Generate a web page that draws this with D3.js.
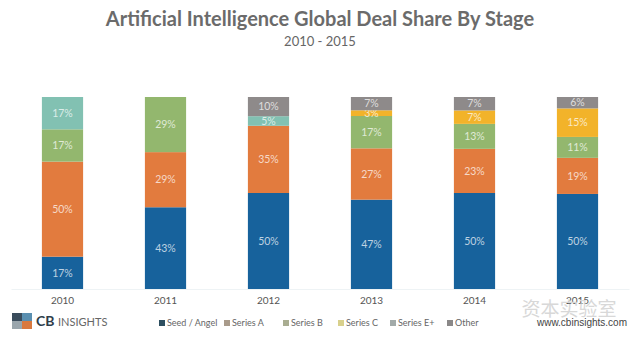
<!DOCTYPE html>
<html>
<head>
<meta charset="utf-8">
<script src="https://cdn.jsdelivr.net/npm/d3@7"></script>
<style>
  body { margin: 0; background: #fff; }
  svg { display: block; font-family: Lato, "Open Sans", sans-serif; }
</style>
</head>
<body>
<script>
const w = 640;
const h = 339;

const years = ["2010", "2011", "2012", "2013", "2014", "2015"];
const stages = ["Seed / Angel", "Series A", "Series B", "Series C", "Series E+", "Other"];
const seedAngel = [17, 43, 50, 47, 50, 50];
const seriesA = [50, 29, 35, 27, 23, 19];
const seriesB = [17, 29, 0, 17, 13, 11];
const seriesC = [0, 0, 0, 3, 7, 15];
const seriesE = [17, 0, 5, 0, 0, 0];
const other = [0, 0, 10, 7, 7, 6];

const barColors = ["#17629c", "#e27b3e", "#93b76e", "#f2b32a", "#82c1b2", "#8e8a8a"];
const legendColors = ["#2d4f60", "#a99b8b", "#a9ad91", "#d8d08c", "#a2aaa9", "#8a8888"];

const series = [seedAngel, seriesA, seriesB, seriesC, seriesE, other];
const rows = years.map((y, i) => {
  const r = { year: y };
  stages.forEach((s, j) => (r[s] = series[j][i]));
  return r;
});

const svg = d3.select("body").append("svg").attr("width", w).attr("height", h);

svg.append("text")
  .attr("x", 320).attr("y", 26)
  .attr("text-anchor", "middle")
  .attr("font-size", 20).attr("font-weight", "bold")
  .attr("fill", "#6b6b6b")
  .text("Artificial Intelligence Global Deal Share By Stage");

svg.append("text")
  .attr("x", 320).attr("y", 46)
  .attr("text-anchor", "middle")
  .attr("font-size", 13)
  .attr("fill", "#666")
  .text("2010 - 2015");

const xScale = d3.scaleBand()
  .domain(years)
  .range([11, 629])
  .paddingInner(0.6)
  .paddingOuter(0.3);

const yScale = d3.scaleLinear().domain([0, 1]).range([289, 97]);

const stack = d3.stack().keys(stages).offset(d3.stackOffsetExpand);
const layers = stack(rows);

const groups = svg.selectAll("g.layer")
  .data(layers)
  .enter()
  .append("g")
  .attr("class", "layer")
  .attr("fill", (d, i) => barColors[i]);

groups.selectAll("rect")
  .data((d) => d.filter((p) => p[1] - p[0] > 0))
  .enter()
  .append("rect")
  .attr("x", (d) => xScale(d.data.year))
  .attr("y", (d) => yScale(d[1]))
  .attr("width", xScale.bandwidth())
  .attr("height", (d) => yScale(d[0]) - yScale(d[1]));

groups.selectAll("text")
  .data((d) => d.filter((p) => p[1] - p[0] > 0).map((p) => ({ p: p, key: d.key })))
  .enter()
  .append("text")
  .attr("x", (d) => xScale(d.p.data.year) + xScale.bandwidth() / 2)
  .attr("y", (d) => yScale((d.p[0] + d.p[1]) / 2))
  .attr("dy", "0.35em")
  .attr("text-anchor", "middle")
  .attr("font-size", 10.5)
  .attr("fill", "#fff")
  .attr("fill-opacity", 0.72)
  .text((d) => d.p.data[d.key] + "%");

const xAxis = d3.axisBottom(xScale).tickSize(0).tickPadding(8);
const gx = svg.append("g")
  .attr("transform", "translate(0," + 289 + ")")
  .call(xAxis);
gx.select(".domain").attr("stroke", "#eef3f5");
gx.selectAll("text")
  .attr("font-family", "Lato, sans-serif")
  .attr("font-size", 10)
  .attr("fill", "#555");

// legend
const legendX = [159, 224, 283, 338, 390, 447];
const legend = svg.selectAll("g.legend")
  .data(stages)
  .enter()
  .append("g")
  .attr("class", "legend")
  .attr("transform", (d, i) => "translate(" + legendX[i] + ",323)");
legend.append("rect")
  .attr("x", 0).attr("y", -3)
  .attr("width", 6).attr("height", 6)
  .attr("fill", (d, i) => legendColors[i]);
legend.append("text")
  .attr("x", 8).attr("y", 0)
  .attr("dy", "0.34em")
  .attr("font-size", 9)
  .attr("fill", "#666")
  .text((d) => d);

// logo
const logo = svg.append("g").attr("transform", "translate(12,313)");
logo.append("rect").attr("width", 10).attr("height", 8).attr("fill", "#3a4c5c");
logo.append("rect").attr("x", 10).attr("width", 10).attr("height", 8).attr("fill", "#5a8fb0");
logo.append("rect").attr("y", 8).attr("width", 10).attr("height", 8).attr("fill", "#9aa6ad");
logo.append("rect").attr("x", 10).attr("y", 8).attr("width", 10).attr("height", 8).attr("fill", "#d9793f");
logo.append("text").attr("x", 24).attr("y", 13)
  .attr("font-size", 14).attr("font-weight", "bold").attr("fill", "#2f3d4a").text("CB");
logo.append("text").attr("x", 46).attr("y", 13)
  .attr("font-size", 11).attr("fill", "#666").text("INSIGHTS");

// watermark
svg.append("text")
  .attr("x", 569).attr("y", 316)
  .attr("text-anchor", "middle")
  .attr("font-family", "Noto Sans CJK SC")
  .attr("font-size", 19)
  .attr("fill", "#d8d8d8")
  .text("资本实验室");

svg.append("text")
  .attr("x", 627).attr("y", 326)
  .attr("text-anchor", "end")
  .attr("font-family", "Liberation Sans, Arial, sans-serif")
  .attr("font-size", 10)
  .attr("fill", "#444")
  .text("www.cbinsights.com");
</script>
</body>
</html>
